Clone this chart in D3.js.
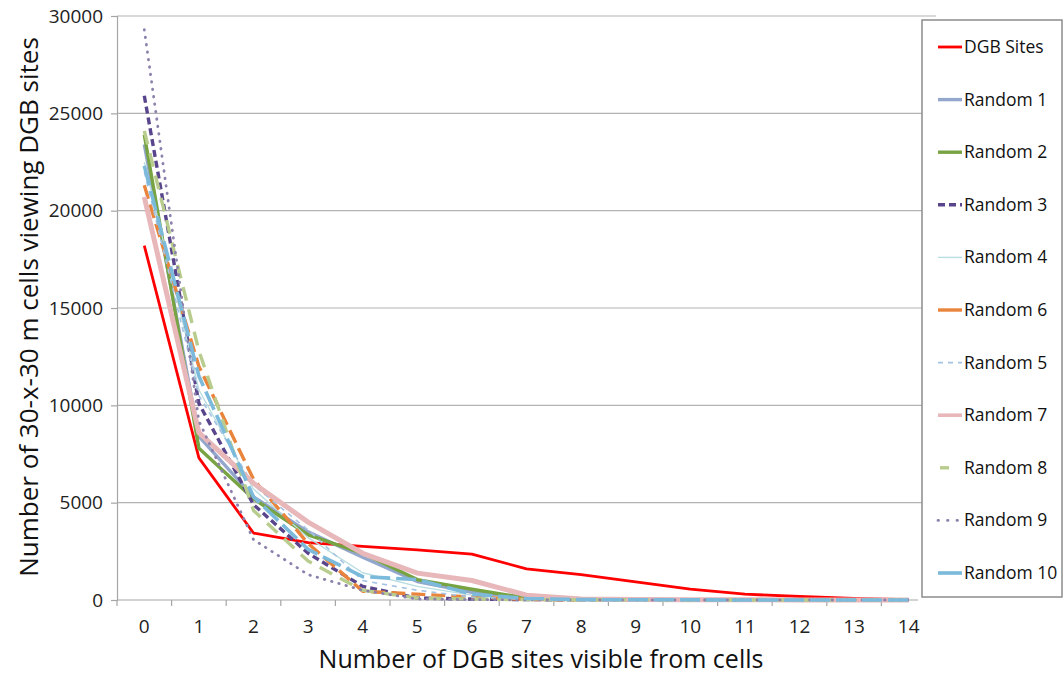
<!DOCTYPE html>
<html>
<head>
<meta charset="utf-8">
<script src="https://cdn.jsdelivr.net/npm/d3@7"></script>
<style>
    body { margin: 0; background: #fff; }
    svg { display: block; font-family: "Open Sans", sans-serif; }
</style>
</head>
<body>
<svg id="chart" width="1063" height="674"></svg>
<script>
// Data
const sitesVisible = [0, 1, 2, 3, 4, 5, 6, 7, 8, 9, 10, 11, 12, 13, 14];
const yTicks = [0, 5000, 10000, 15000, 20000, 25000, 30000];

const dgbSites = [18200, 7300, 3440, 2950, 2750, 2570, 2360, 1600, 1300, 930, 560, 300, 180, 80, 20];
const random1 = [23400, 8400, 5300, 3500, 2200, 950, 400, 100, 50, 30, 20, 10, 10, 10, 10];
const random2 = [23900, 7800, 5200, 3350, 2400, 1050, 550, 100, 50, 30, 20, 10, 10, 10, 10];
const random3 = [25900, 10100, 4900, 2400, 700, 100, 50, 20, 10, 10, 10, 0, 0, 0, 0];
const random4 = [22500, 10800, 5700, 3200, 1400, 700, 250, 60, 20, 10, 10, 0, 0, 0, 0];
const random6 = [21300, 12000, 6200, 2900, 450, 300, 150, 30, 10, 10, 10, 0, 0, 0, 0];
const random5 = [22000, 10500, 5900, 3600, 1000, 500, 150, 30, 10, 10, 10, 0, 0, 0, 0];
const random7 = [20700, 8600, 6000, 4000, 2400, 1380, 1000, 250, 50, 20, 10, 10, 0, 0, 0];
const random8 = [24100, 12800, 4600, 2000, 500, 100, 50, 20, 10, 10, 0, 0, 0, 0, 0];
const random9 = [29300, 9200, 3100, 1300, 500, 50, 20, 10, 10, 0, 0, 0, 0, 0, 0];
const random10 = [22300, 11500, 5300, 2600, 1200, 1050, 300, 80, 20, 10, 10, 0, 0, 0, 0];

// series in legend order, drawn in that order
const series = [
    { name: 'DGB Sites', values: dgbSites, color: '#ff0000', width: 2.8, dash: null, key: null },
    { name: 'Random 1', values: random1, color: '#93a6cc', width: 3.4, dash: null, key: null },
    { name: 'Random 2', values: random2, color: '#77a342', width: 3.4, dash: null, key: null },
    { name: 'Random 3', values: random3, color: '#58458c', width: 3.4, dash: '7,4', key: '7,4' },
    { name: 'Random 4', values: random4, color: '#b9dde0', width: 1.4, dash: null, key: null },
    { name: 'Random 6', values: random6, color: '#e8843c', width: 3.4, dash: '14,6', key: null },
    { name: 'Random 5', values: random5, color: '#a5c3e3', width: 1.6, dash: '5,5', key: '5,5' },
    { name: 'Random 7', values: random7, color: '#e7b7ba', width: 5, dash: null, key: null },
    { name: 'Random 8', values: random8, color: '#b8cc8e', width: 3.4, dash: '14,9', key: '9,30', keyOffset: -2 },
    { name: 'Random 9', values: random9, color: '#8d82ad', width: 2.8, dash: '0.5,7', key: '0.5,9', cap: 'round' },
    { name: 'Random 10', values: random10, color: '#7cbadb', width: 3.6, dash: '20,6', key: null }
];

const svg = d3.select('#chart');
const plot = { left: 117, right: 936, top: 16, bottom: 600 };

const x = d3.scaleBand()
    .domain(sitesVisible)
    .range([plot.left, plot.right]);

const y = d3.scaleLinear()
    .domain([0, 30000])
    .range([plot.bottom, plot.top]);

const cx = d => x(d) + x.bandwidth() / 2;

// Gridlines
svg.append('g')
    .selectAll('line')
    .data(yTicks.filter(t => t > 0))
    .enter()
    .append('line')
    .attr('x1', plot.left)
    .attr('x2', plot.right)
    .attr('y1', d => y(d))
    .attr('y2', d => y(d))
    .attr('stroke', '#b3b3b3')
    .attr('stroke-width', 1.2);

// Y axis
const yAxis = svg.append('g')
    .attr('transform', `translate(${plot.left},0)`)
    .call(d3.axisLeft(y).tickValues(yTicks).tickSize(6).tickPadding(8).tickFormat(d3.format('d')));
yAxis.select('.domain').attr('stroke', '#a6a6a6').attr('stroke-width', 1.2);
yAxis.selectAll('.tick line').attr('stroke', '#a6a6a6').attr('stroke-width', 1.2);
yAxis.selectAll('.tick text')
    .attr('font-size', 19)
    .attr('font-family', '"Open Sans", sans-serif')
    .attr('fill', '#222');

// X axis (labels centred, ticks on category boundaries)
const xAxis = svg.append('g')
    .attr('transform', `translate(0,${plot.bottom})`)
    .call(d3.axisBottom(x).tickSize(0).tickPadding(20));
xAxis.select('.domain').remove();
xAxis.selectAll('.tick text')
    .attr('font-size', 19)
    .attr('font-family', '"Open Sans", sans-serif')
    .attr('fill', '#222');

svg.append('line')
    .attr('x1', plot.left)
    .attr('x2', 918)
    .attr('y1', plot.bottom)
    .attr('y2', plot.bottom)
    .attr('stroke', '#a6a6a6')
    .attr('stroke-width', 1.2);

svg.append('g')
    .selectAll('line')
    .data(sitesVisible)
    .enter()
    .append('line')
    .attr('x1', d => x(d))
    .attr('x2', d => x(d))
    .attr('y1', plot.bottom)
    .attr('y2', plot.bottom + 6)
    .attr('stroke', '#a6a6a6')
    .attr('stroke-width', 1.2);

// Lines
const line = d3.line()
    .x((d, i) => cx(sitesVisible[i]))
    .y(d => y(d));

svg.append('g')
    .selectAll('path')
    .data(series)
    .enter()
    .append('path')
    .attr('d', d => line(d.values))
    .attr('fill', 'none')
    .attr('stroke', d => d.color)
    .attr('stroke-width', d => d.width)
    .attr('stroke-dasharray', d => d.dash)
    .attr('stroke-linecap', d => d.cap || 'butt')
    .attr('stroke-linejoin', 'round');

// Axis titles
svg.append('text')
    .attr('transform', 'translate(38,307) rotate(-90)')
    .attr('text-anchor', 'middle')
    .attr('font-size', 26)
    .attr('fill', '#111')
    .text('Number of 30-x-30 m cells viewing DGB sites');

svg.append('text')
    .attr('x', 541)
    .attr('y', 668)
    .attr('text-anchor', 'middle')
    .attr('font-size', 25)
    .attr('fill', '#111')
    .text('Number of DGB sites visible from cells');

// Legend
const legend = svg.append('g');
legend.append('rect')
    .attr('x', 922)
    .attr('y', 20)
    .attr('width', 140)
    .attr('height', 577)
    .attr('fill', '#fff')
    .attr('stroke', '#8c8c8c')
    .attr('stroke-width', 1.5);

const legendY = d3.scalePoint()
    .domain(series.map(d => d.name))
    .range([47, 573]);

const item = legend.selectAll('g.item')
    .data(series)
    .enter()
    .append('g')
    .attr('class', 'item')
    .attr('transform', d => `translate(0,${legendY(d.name)})`);

item.append('line')
    .attr('x1', 938)
    .attr('x2', 962)
    .attr('stroke', d => d.color)
    .attr('stroke-width', d => Math.min(d.width, 3.6))
    .attr('stroke-dasharray', d => d.key)
    .attr('stroke-dashoffset', d => d.keyOffset || 0)
    .attr('stroke-linecap', d => d.cap || 'butt');

item.append('text')
    .attr('x', 964)
    .attr('y', 6)
    .attr('font-size', 17.5)
    .attr('fill', '#111')
    .text(d => d.name);
</script>
</body>
</html>
